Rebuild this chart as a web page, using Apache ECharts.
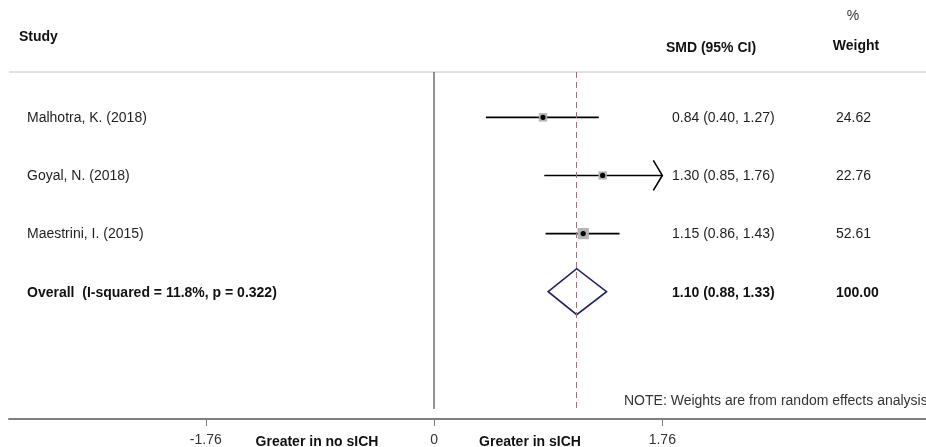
<!DOCTYPE html>
<html>
<head>
<meta charset="utf-8">
<script src="https://cdn.jsdelivr.net/npm/echarts@6/dist/echarts.min.js"></script>
<style>
  html, body { margin: 0; padding: 0; background: #fff; }
  #chart { width: 926px; height: 447px; }
</style>
</head>
<body>
<div id="chart"></div>
<script>
// Study-level standardized mean differences with 95% confidence intervals
const studies = ['Malhotra, K. (2018)', 'Goyal, N. (2018)', 'Maestrini, I. (2015)'];
const smd = [0.84, 1.30, 1.15];
const lower = [0.40, 0.85, 0.86];
const upper = [1.27, 1.76, 1.43];
const weights = [24.62, 22.76, 52.61];

// Pooled random-effects estimate
const pooledLabel = 'Overall  (I-squared = 11.8%, p = 0.322)';
const pooled = [1.10, 0.88, 1.33];   // estimate, lower, upper
const pooledWeight = 100.00;

// Axis ticks (symmetric display limits)
const xTicks = [-1.76, 0, 1.76];
const displayLimit = 1.76;

const FONT = '"Liberation Sans", Arial, sans-serif';
const FS = 14;
const TEXT = '#111';
const BODY = '#1e1e1e';
const LABEL_X = 27;
const CI_X = 672;
const WT_X = 836;
const rowY = -0.78, rowBottom = 5.19;

const fmt = v => v.toFixed(2);
const normal = FS + 'px ' + FONT;
const bold = 'bold ' + FS + 'px ' + FONT;

const chart = echarts.init(document.getElementById('chart'), null, { renderer: 'canvas' });

chart.setOption({
  animation: false,
  backgroundColor: '#fff',
  grid: { left: 9, right: 0, top: 72, bottom: 25 },
  xAxis: {
    type: 'value',
    min: -3.277,
    max: 3.793,
    splitLine: { show: false },
    axisLine: { show: true, onZero: false, lineStyle: { color: '#7f7f7f', width: 2 } },
    axisTick: { show: true, customValues: xTicks, length: 7, lineStyle: { color: '#7f7f7f', width: 1 } },
    axisLabel: {
      customValues: xTicks,
      margin: 14,
      color: '#333',
      fontFamily: FONT,
      fontSize: FS,
      formatter: v => (v === 0 ? '0' : fmt(v))
    }
  },
  yAxis: {
    type: 'value',
    inverse: true,
    min: rowY,
    max: rowBottom,
    show: false
  },
  graphic: [
    { type: 'line', shape: { x1: 9, y1: 72, x2: 926, y2: 72 }, style: { stroke: '#c4c4c4', lineWidth: 1 } },
    { type: 'text', x: 19, y: 37, style: { text: 'Study', font: bold, fill: TEXT, verticalAlign: 'middle' } },
    { type: 'text', x: 711, y: 48, style: { text: 'SMD (95% CI)', font: bold, fill: TEXT, align: 'center', verticalAlign: 'middle' } },
    { type: 'text', x: 853, y: 16, style: { text: '%', font: normal, fill: '#333', align: 'center', verticalAlign: 'middle' } },
    { type: 'text', x: 856, y: 46, style: { text: 'Weight', font: bold, fill: TEXT, align: 'center', verticalAlign: 'middle' } },
    { type: 'text', x: 624, y: 401, style: { text: 'NOTE: Weights are from random effects analysis', font: normal, fill: '#333', verticalAlign: 'middle' } },
    { type: 'text', x: 317, y: 442, style: { text: 'Greater in no sICH', font: bold, fill: TEXT, align: 'center', verticalAlign: 'middle' } },
    { type: 'text', x: 530, y: 442, style: { text: 'Greater in sICH', font: bold, fill: TEXT, align: 'center', verticalAlign: 'middle' } }
  ],
  series: [
    {
      // individual studies: CI whiskers, weight boxes, point estimates, text columns
      type: 'custom',
      silent: true,
      data: studies.map((s, i) => [i, smd[i], lower[i], upper[i], weights[i]]),
      encode: { x: [1, 2, 3], y: 0 },
      renderItem(params, api) {
        const i = params.dataIndex;
        const row = api.value(0);
        const est = api.value(1), lo = api.value(2), hi = api.value(3), w = api.value(4);
        const pEst = api.coord([est, row]);
        const pLo = api.coord([lo, row]);
        const pHi = api.coord([Math.min(hi, displayLimit), row]);
        const y = pEst[1];
        const box = 6 + w * 0.1;
        const children = [
          { type: 'line', shape: { x1: pLo[0], y1: y, x2: pHi[0], y2: y }, style: { stroke: '#000', lineWidth: 1.6 } },
          { type: 'rect', shape: { x: pEst[0] - box / 2, y: y - box / 2, width: box, height: box }, style: { fill: '#b4b4b4' } },
          { type: 'circle', shape: { cx: pEst[0], cy: y, r: 2.6 }, style: { fill: '#000' } },
          { type: 'text', x: LABEL_X, y: y + 1, style: { text: studies[i], font: normal, fill: BODY, verticalAlign: 'middle' } },
          { type: 'text', x: CI_X, y: y + 1, style: { text: fmt(est) + ' (' + fmt(lo) + ', ' + fmt(hi) + ')', font: normal, fill: BODY, verticalAlign: 'middle' } },
          { type: 'text', x: WT_X, y: y + 1, style: { text: fmt(w), font: normal, fill: BODY, verticalAlign: 'middle' } }
        ];
        if (hi >= displayLimit) {
          children.push({
            type: 'polyline',
            shape: { points: [[pHi[0] - 9, y - 15], [pHi[0], y], [pHi[0] - 9, y + 15]] },
            style: { stroke: '#000', lineWidth: 1.6, fill: null }
          });
        }
        return { type: 'group', children };
      }
    },
    {
      // pooled estimate diamond and its text columns
      type: 'custom',
      silent: true,
      data: [[studies.length, pooled[0], pooled[1], pooled[2], pooledWeight]],
      encode: { x: [1, 2, 3], y: 0 },
      renderItem(params, api) {
        const row = api.value(0);
        const c = api.coord([api.value(1), row]);
        const l = api.coord([api.value(2), row]);
        const r = api.coord([api.value(3), row]);
        const y = c[1], h = 23;
        return {
          type: 'group',
          children: [
            {
              type: 'polygon',
              shape: { points: [[l[0], y], [c[0], y - h], [r[0], y], [c[0], y + h]] },
              style: { stroke: '#1f1f6b', lineWidth: 1.6, fill: null }
            },
            { type: 'text', x: LABEL_X, y: y + 1, style: { text: pooledLabel, font: bold, fill: TEXT, verticalAlign: 'middle' } },
            { type: 'text', x: CI_X, y: y + 1, style: { text: fmt(api.value(1)) + ' (' + fmt(api.value(2)) + ', ' + fmt(api.value(3)) + ')', font: bold, fill: TEXT, verticalAlign: 'middle' } },
            { type: 'text', x: WT_X, y: y + 1, style: { text: fmt(api.value(4)), font: bold, fill: TEXT, verticalAlign: 'middle' } }
          ]
        };
      },
      markLine: {
        silent: true,
        symbol: 'none',
        label: { show: false },
        animation: false,
        data: [
          [
            { coord: [0, rowY], lineStyle: { color: '#6e6e6e', width: 1.5, type: 'solid' } },
            { coord: [0, 5.02] }
          ],
          [
            { coord: [pooled[0], rowY], lineStyle: { color: '#a0707c', width: 1, type: [6, 4] } },
            { coord: [pooled[0], 5.05] }
          ]
        ]
      }
    }
  ]
});
</script>
</body>
</html>
